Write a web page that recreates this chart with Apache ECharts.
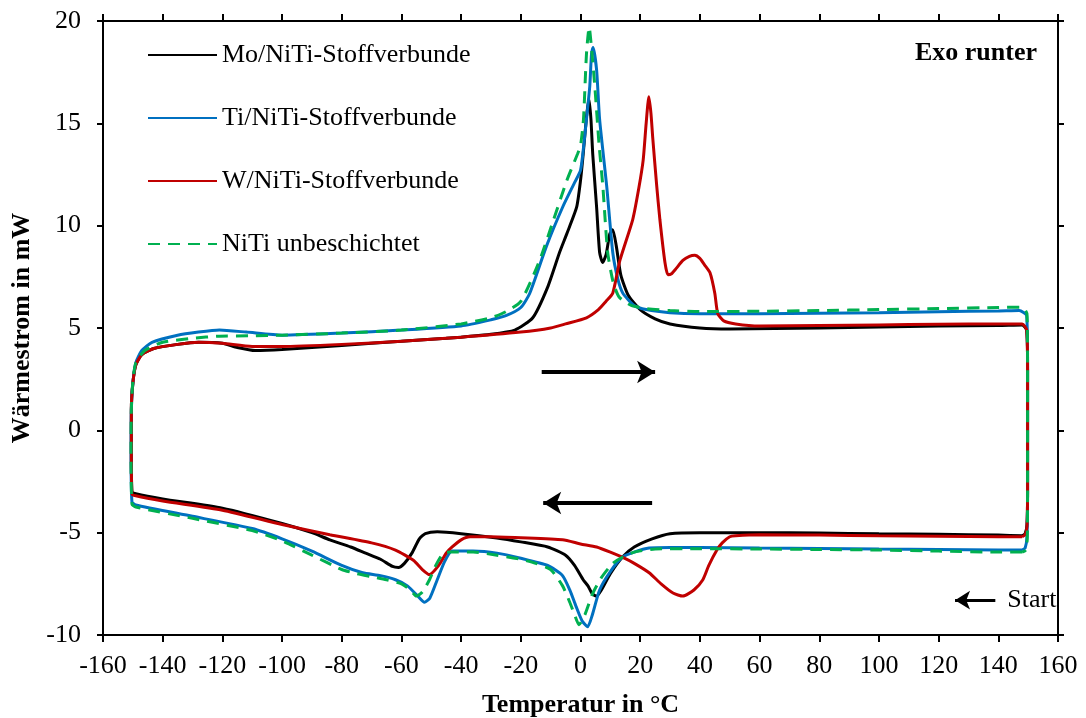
<!DOCTYPE html>
<html>
<head>
<meta charset="utf-8">
<script src="https://cdn.jsdelivr.net/npm/echarts@6/dist/echarts.min.js"></script>
<style>html,body{margin:0;padding:0;background:#fff}#c{width:1086px;height:718px}</style>
</head>
<body>
<div id="c"></div>
<script>
// ---- Data (Temperatur in °C, Wärmestrom in mW) ----
const seriesNames = ['Mo/NiTi-Stoffverbunde', 'Ti/NiTi-Stoffverbunde', 'W/NiTi-Stoffverbunde', 'NiTi unbeschichtet'];
const xTicks = [-160, 160, 20];
const yTicks = [-10, 20, 5];

const moData = [
  [148,-5.15],[140,-5.12],[120,-5.08],[100,-5.05],[80,-5.02],[60,-5.0],[40,-5.0],[30,-5.05],[24,-5.3],[18,-5.7],[14,-6.2],[10,-7.0],[7,-7.8],[5.4,-8.1],[4,-8.0],[2.5,-7.6],[0.9,-7.3],[-2,-6.6],[-5,-6.1],[-11,-5.7],[-20,-5.45],[-28,-5.26],[-40,-5.05],[-48,-4.96],[-52,-5.05],[-54,-5.3],[-56.5,-6.0],[-59,-6.5],[-61,-6.7],[-63,-6.65],[-67,-6.3],[-72,-6.0],[-77,-5.7],[-84,-5.35],[-90,-5.0],[-100,-4.55],[-120,-3.8],[-140,-3.35],[-149,-3.1],
  [-150.3,-3.0],[-150.5,-1],[-150.5,1],[-150,2.3],[-149,3.2],[-147,3.7],[-143,4.0],[-135,4.2],[-128,4.3],[-120,4.25],[-115,4.05],[-109,3.9],[-100,3.95],[-80,4.15],[-60,4.35],[-45,4.5],[-30,4.7],[-22,4.9],[-16,5.5],[-11,7.0],[-7,8.7],[-4.6,9.6],[-1.3,10.9],[0,12.2],[0.9,13.5],[2,15.3],[2.8,16.2],[3.5,15.2],[4.1,13.5],[5.4,10.9],[6.4,8.7],[7.4,8.2],[8.6,8.6],[9.8,9.6],[10.8,9.8],[12,9.0],[13.5,7.6],[16,6.6],[20,5.9],[25,5.45],[30,5.2],[40,5.0],[50,4.95],[80,5.0],[100,5.05],[120,5.1],[140,5.12],[148,5.15],
  [149.5,4.9],[149.8,3],[149.8,-3],[149.6,-4.6],[149,-5.05],[148,-5.15]
];

const tiData = [
  [148,-5.85],[140,-5.85],[120,-5.82],[100,-5.8],[80,-5.77],[60,-5.75],[40,-5.72],[30,-5.72],[23,-5.75],[18,-5.95],[14,-6.2],[10,-6.9],[6.4,-7.8],[4,-9.0],[2.4,-9.6],[0.5,-9.3],[-1.5,-8.6],[-3.6,-7.8],[-6,-7.1],[-11,-6.6],[-20,-6.25],[-28,-6.0],[-36,-5.9],[-43,-5.9],[-45.5,-6.4],[-48,-7.3],[-50.5,-8.2],[-52.3,-8.4],[-54.5,-8.1],[-58,-7.6],[-62,-7.3],[-67,-7.1],[-73,-6.96],[-80,-6.6],[-90,-5.9],[-100,-5.3],[-110,-4.8],[-130,-4.2],[-149,-3.65],
  [-150.3,-3.5],[-150.6,-1],[-150.5,1],[-150,2.3],[-149,3.3],[-147,3.9],[-143.6,4.3],[-135,4.65],[-128,4.8],[-121,4.9],[-112,4.8],[-100,4.65],[-80,4.75],[-60,4.9],[-40,5.1],[-30,5.4],[-25,5.6],[-20,6.0],[-17,6.7],[-11.4,9.0],[-6,10.9],[-2,12.1],[0,12.7],[1,13.8],[2,15.2],[3.1,16.8],[3.7,18.4],[4.2,18.7],[5.4,17.6],[6.4,15.2],[8.8,11.9],[10.8,8.7],[12.5,7.4],[14.2,6.7],[18,6.1],[22,5.9],[30,5.75],[40,5.7],[60,5.7],[80,5.72],[100,5.75],[120,5.8],[140,5.83],[147,5.85],
  [149.5,5.6],[149.8,3],[149.8,-3],[149.6,-5.2],[149,-5.75],[148,-5.85]
];

const wData = [
  [148,-5.2],[140,-5.2],[120,-5.17],[100,-5.15],[80,-5.12],[60,-5.1],[52,-5.15],[50,-5.2],[47.5,-5.5],[45.7,-5.85],[43,-6.6],[41,-7.3],[38,-7.8],[34.3,-8.1],[31,-7.95],[27,-7.5],[23,-6.96],[18,-6.5],[14,-6.2],[10,-5.95],[5.4,-5.7],[0,-5.55],[-6,-5.35],[-20,-5.25],[-30,-5.2],[-37,-5.2],[-40,-5.35],[-43,-5.7],[-45,-6.0],[-47.5,-6.6],[-50.6,-7.05],[-53,-6.8],[-56,-6.35],[-62,-5.85],[-70,-5.5],[-84,-5.1],[-100,-4.6],[-120,-3.9],[-140,-3.45],[-149,-3.2],
  [-150.3,-3.1],[-150.5,-1],[-150.5,1],[-150,2.3],[-149,3.2],[-147,3.7],[-143,4.0],[-135,4.2],[-128,4.3],[-120,4.25],[-110,4.1],[-100,4.1],[-80,4.2],[-60,4.35],[-40,4.55],[-20,4.8],[-10,5.0],[-5,5.2],[2,5.5],[6,5.9],[8.5,6.3],[10.8,6.7],[13.2,8.3],[17.5,10.3],[19.5,11.8],[21,13.2],[22,15],[22.9,16.3],[23.6,15.5],[24.2,14.3],[25.5,12],[26.6,10.3],[28.3,8.2],[29.3,7.6],[30.5,7.65],[32,7.9],[34.3,8.3],[36.5,8.5],[38.3,8.55],[40,8.4],[41.5,8.1],[43.4,7.7],[45,6.7],[46,5.7],[48,5.35],[52,5.2],[60,5.1],[80,5.12],[100,5.15],[120,5.18],[140,5.2],[148,5.2],
  [149.5,4.9],[149.8,3],[149.8,-3],[149.6,-4.7],[149,-5.1],[148,-5.2]
];

const nitiData = [
  [148,-5.95],[140,-5.95],[120,-5.9],[100,-5.85],[80,-5.82],[60,-5.8],[40,-5.78],[25,-5.8],[18,-5.95],[14,-6.2],[10.8,-6.5],[7,-7.2],[4,-8.0],[1.5,-9.0],[-0.5,-9.5],[-2,-9.0],[-3.6,-8.4],[-6,-7.6],[-10,-6.8],[-15,-6.5],[-20,-6.3],[-28,-6.1],[-36,-5.95],[-44,-5.95],[-46,-6.0],[-48.5,-6.6],[-50.6,-7.3],[-53,-7.9],[-55,-8.1],[-57,-7.8],[-60,-7.5],[-65,-7.3],[-70,-7.15],[-75,-7.0],[-80,-6.8],[-90,-6.1],[-100,-5.4],[-110,-4.9],[-130,-4.3],[-149,-3.75],
  [-150.3,-3.6],[-150.6,-1],[-150.5,1],[-150,2.4],[-149,3.3],[-146,3.9],[-140,4.3],[-130,4.5],[-121,4.6],[-110,4.62],[-100,4.65],[-80,4.75],[-60,4.9],[-40,5.2],[-30,5.5],[-25,5.8],[-20,6.3],[-13.7,8.3],[-9,10.3],[-4.6,12.2],[-1,13.5],[0,13.9],[1,15.2],[2,18.4],[2.9,19.7],[3.8,18.5],[4.8,16.8],[6.2,14],[7.5,11.9],[9.1,8.7],[11,7.2],[13,6.5],[17,6.1],[22,5.95],[30,5.85],[40,5.8],[60,5.82],[80,5.85],[100,5.9],[120,5.95],[140,6.0],[148,6.02],
  [149.6,5.7],[149.8,3],[149.8,-3],[149.7,-5.3],[149.2,-5.85],[148,-5.95]
];

// Annotation arrows: [x1, y1, x2, y2]
const heatArrow = [-13, 2.85, 25, 2.85];
const coolArrow = [24, -3.55, -12.5, -3.55];
const startArrow = [139, -8.3, 125.5, -8.3];

const FONT = '"Liberation Serif", "Times New Roman", serif';
const colors = ['#000000', '#0070C0', '#C00000', '#00B050'];

const chart = echarts.init(document.getElementById('c'), null, {renderer: 'canvas'});

function arrowLine(a, width, size, label) {
  const item = [
    {coord: [a[0], a[1]], symbol: 'none'},
    {coord: [a[2], a[3]], symbol: 'arrow', symbolSize: size}
  ];
  item[0].lineStyle = {color: '#000', width: width, type: 'solid'};
  item[0].label = label ? {show: true, position: 'start', formatter: label, color: '#000',
    fontFamily: FONT, fontSize: 26, distance: 12} : {show: false};
  return item;
}

const baseAxisX = {
  type: 'value', min: xTicks[0], max: xTicks[1], interval: xTicks[2],
  axisLine: {show: true, onZero: false, lineStyle: {color: '#000', width: 2}},
  axisTick: {show: true, inside: false, length: 7, lineStyle: {color: '#000', width: 2}},
  splitLine: {show: false}
};
const baseAxisY = {
  type: 'value', min: yTicks[0], max: yTicks[1], interval: yTicks[2],
  axisLine: {show: true, onZero: false, lineStyle: {color: '#000', width: 2}},
  axisTick: {show: true, inside: false, length: 6, lineStyle: {color: '#000', width: 2}},
  splitLine: {show: false}
};

const dataSets = [moData, tiData, wData, nitiData];

const option = {
  animation: false,
  backgroundColor: '#fff',
  title: {
    text: 'Exo runter', right: 44, top: 35,
    textStyle: {fontFamily: FONT, fontSize: 26, fontWeight: 'bold', color: '#000'}
  },
  legend: {
    data: seriesNames,
    orient: 'vertical', left: 147, top: 42, padding: 0,
    itemWidth: 69, itemHeight: 14, itemGap: 37,
    itemStyle: {opacity: 0},
    textStyle: {fontFamily: FONT, fontSize: 26, color: '#000', lineHeight: 26},
    selectedMode: false
  },
  grid: {left: 103, right: 28, top: 21, bottom: 83, containLabel: false, outerBoundsMode: 'none'},
  xAxis: [
    Object.assign({}, baseAxisX, {
      position: 'bottom',
      name: 'Temperatur in °C', nameLocation: 'middle', nameGap: 57,
      nameTextStyle: {fontFamily: FONT, fontSize: 26, fontWeight: 'bold', color: '#000'},
      axisLabel: {show: true, margin: 18, fontFamily: FONT, fontSize: 26, color: '#000'}
    }),
    Object.assign({}, baseAxisX, {position: 'top', axisLabel: {show: false}})
  ],
  yAxis: [
    Object.assign({}, baseAxisY, {
      position: 'left',
      name: 'Wärmestrom in mW', nameLocation: 'middle', nameGap: 60, nameRotate: 90,
      nameTextStyle: {fontFamily: FONT, fontSize: 26, fontWeight: 'bold', color: '#000'},
      axisLabel: {show: true, margin: 22, fontFamily: FONT, fontSize: 26, color: '#000'}
    }),
    Object.assign({}, baseAxisY, {position: 'right', axisLabel: {show: false}})
  ],
  series: seriesNames.map((name, i) => {
    const s = {
      name: name, type: 'line', xAxisIndex: 0, yAxisIndex: 0,
      data: dataSets[i], showSymbol: false, symbol: 'none', smooth: 0.2,
      color: colors[i],
      lineStyle: {color: colors[i], width: 3, type: i === 3 ? [12, 8] : 'solid'},
      z: 2 + i
    };
    if (i === 0) {
      s.markLine = {
        silent: true, animation: false,
        data: [
          arrowLine(heatArrow, 4, [17, 18]),
          arrowLine(coolArrow, 4, [17, 18]),
          arrowLine(startArrow, 3, [14, 15], 'Start')
        ]
      };
    }
    return s;
  })
};
chart.setOption(option);
</script>
</body>
</html>
